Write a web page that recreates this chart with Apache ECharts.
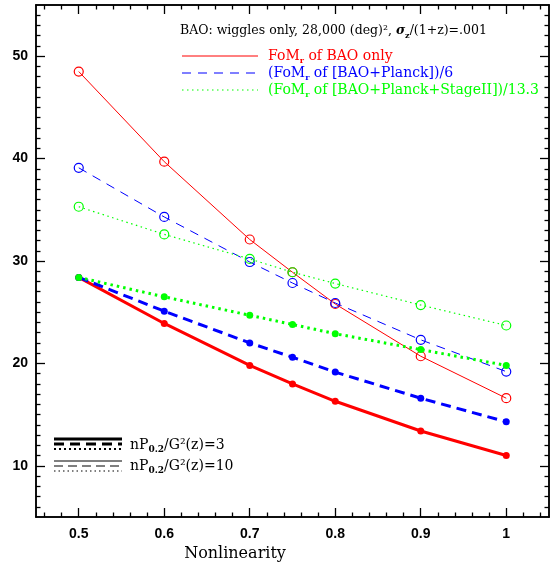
<!DOCTYPE html>
<html>
<head>
<meta charset="utf-8">
<script src="https://cdn.jsdelivr.net/npm/echarts@6/dist/echarts.min.js"></script>
<style>html,body{margin:0;padding:0;background:#fff;}#c{width:559px;height:571px;}</style>
</head>
<body>
<div id="c"></div>
<script>
// ---- data ----
const nonlinearity = [0.5, 0.6, 0.7, 0.75, 0.8, 0.9, 1.0];
// nP/G^2 = 10 (thin lines, open circles)
const baoOnly10   = [48.5, 39.7, 32.1, 28.9, 25.8, 20.7, 16.6];
const planck10    = [39.1, 34.3, 29.9, 27.85, 25.9, 22.3, 19.2];
const stageII10   = [35.3, 32.6, 30.2, 28.9, 27.8, 25.7, 23.7];
// nP/G^2 = 3 (thick lines, filled dots)
const baoOnly3    = [28.4, 23.9, 19.8, 18.0, 16.3, 13.4, 11.0];
const planck3     = [28.4, 25.1, 22.0, 20.6, 19.15, 16.6, 14.3];
const stageII3    = [28.4, 26.5, 24.7, 23.8, 22.9, 21.35, 19.8];
// axis ticks
const xMajorTicks = [0.5, 0.6, 0.7, 0.8, 0.9, 1.0];
const xMinorTicks = [0.46,0.48,0.52,0.54,0.56,0.58,0.62,0.64,0.66,0.68,0.72,0.74,0.76,0.78,0.82,0.84,0.86,0.88,0.92,0.94,0.96,0.98,1.02,1.04];
const yMajorTicks = [10, 20, 30, 40, 50];
const yMinorTicks = [];
for (let v = 6; v <= 54; v++) { if (v % 10 !== 0) yMinorTicks.push(v); }

const RED = '#ff0000', BLUE = '#0000ff', GREEN = '#00ff00';
const serif = "'DejaVu Serif', 'Liberation Serif', serif";
const sans = "'Liberation Sans', Arial, sans-serif";

function pairs(arr) { return nonlinearity.map((x, i) => [x, arr[i]]); }

function xAx(pos, ticks, len, labels) {
  return {
    type: 'value', min: 0.45, max: 1.05, position: pos, gridIndex: 0,
    axisLine: { show: true, onZero: false, lineStyle: { color: '#000', width: 1.5 } },
    axisTick: { show: true, inside: true, length: len, customValues: ticks, lineStyle: { color: '#000', width: 1.3 } },
    axisLabel: labels ? { show: true, customValues: ticks, color: '#000', fontFamily: sans, fontWeight: 'bold', fontSize: 14, margin: 10 } : { show: false },
    splitLine: { show: false }, minorTick: { show: false }
  };
}
function yAx(pos, ticks, len, labels) {
  return {
    type: 'value', min: 5, max: 55, position: pos, gridIndex: 0,
    axisLine: { show: true, onZero: false, lineStyle: { color: '#000', width: 1.5 } },
    axisTick: { show: true, inside: true, length: len, customValues: ticks, lineStyle: { color: '#000', width: 1.3 } },
    axisLabel: labels ? { show: true, customValues: ticks, color: '#000', fontFamily: sans, fontWeight: 'bold', fontSize: 14, margin: 8 } : { show: false },
    splitLine: { show: false }, minorTick: { show: false }
  };
}

function ser(name, data, color, width, dash, filled) {
  return {
    name: name, type: 'line', data: pairs(data), xAxisIndex: 0, yAxisIndex: 0,
    symbol: 'circle', symbolSize: filled ? 7 : 9,
    lineStyle: { color: color, width: width, type: dash },
    itemStyle: filled ? { color: color } : { color: 'rgba(0,0,0,0)', borderColor: color, borderWidth: 1.2 },
    emphasis: { disabled: true }, z: filled ? 3 : 2
  };
}

function richFor(color, size) {
  return {
    n: { color: color, fontFamily: serif, fontSize: size, lineHeight: 18, verticalAlign: 'middle' },
    s: { color: color, fontFamily: serif, fontSize: 8, fontWeight: 'bold', lineHeight: 9, verticalAlign: 'bottom' },
    i: { color: color, fontFamily: serif, fontSize: size, fontStyle: 'italic', fontWeight: 'bold', lineHeight: 18, verticalAlign: 'middle' },
    b: { color: color, fontFamily: serif, fontSize: 9, fontWeight: 'bold', lineHeight: 9, verticalAlign: 'bottom' }
  };
}
function legendText(x, y, text, color, size) {
  return { type: 'text', x: x, y: y, silent: true,
    style: { text: text, rich: richFor(color, size), fill: color, verticalAlign: 'middle', align: 'left' } };
}
function legendLine(x1, x2, y, color, width, dash) {
  return { type: 'line', silent: true, shape: { x1: x1, y1: y, x2: x2, y2: y },
    style: { stroke: color, lineWidth: width, lineDash: dash } };
}

const option = {
  animation: false,
  backgroundColor: '#fff',
  grid: { left: 36, right: 10, top: 5, bottom: 54, containLabel: false },
  xAxis: [
    xAx('bottom', xMajorTicks, 9, true),
    xAx('bottom', xMinorTicks, 4.5, false),
    xAx('top', xMajorTicks, 9, false),
    xAx('top', xMinorTicks, 4.5, false)
  ],
  yAxis: [
    yAx('left', yMajorTicks, 9, true),
    yAx('left', yMinorTicks, 4.5, false),
    yAx('right', yMajorTicks, 9, false),
    yAx('right', yMinorTicks, 4.5, false)
  ],
  series: [
    ser('FoMr of BAO only (nP=10)', baoOnly10, RED, 1, 'solid', false),
    ser('(FoMr of [BAO+Planck])/6 (nP=10)', planck10, BLUE, 1, [9, 7], false),
    ser('(FoMr of [BAO+Planck+StageII])/13.3 (nP=10)', stageII10, GREEN, 1.2, [1.5, 3.5], false),
    ser('FoMr of BAO only (nP=3)', baoOnly3, RED, 3, 'solid', true),
    ser('(FoMr of [BAO+Planck])/6 (nP=3)', planck3, BLUE, 3, [10, 6], true),
    ser('(FoMr of [BAO+Planck+StageII])/13.3 (nP=3)', stageII3, GREEN, 3, [2.5, 4], true)
  ],
  graphic: [
    legendText(180, 31, '{n|BAO: wiggles only, 28,000 (deg)², }{i|σ}{s|z}{n|/(1+z)=.001}', '#000', 12.5),
    legendLine(182, 258, 56, RED, 1, null),
    legendText(268, 56, '{n|FoM}{s|r}{n| of BAO only}', RED, 14),
    legendLine(182, 258, 73, BLUE, 1.2, [9, 7]),
    legendText(268, 73, '{n|(FoM}{s|r}{n| of [BAO+Planck])/6}', BLUE, 14),
    legendLine(182, 258, 90, GREEN, 1.2, [1.5, 3.5]),
    legendText(268, 90, '{n|(FoM}{s|r}{n| of [BAO+Planck+StageII])/13.3}', GREEN, 14),
    legendLine(54, 122, 439, '#000', 3, null),
    legendLine(54, 122, 444, '#000', 3, [10, 6]),
    legendLine(54, 122, 449, '#000', 2, [2, 3]),
    legendText(130, 445, '{n|nP}{b|0.2}{n|/G²(z)=3}', '#000', 14),
    legendLine(54, 122, 461, '#000', 1.2, null),
    legendLine(54, 122, 466, '#000', 1.2, [9, 5]),
    legendLine(54, 122, 471, '#000', 1.2, [1.5, 3]),
    legendText(130, 466, '{n|nP}{b|0.2}{n|/G²(z)=10}', '#000', 14),
    { type: 'text', x: 235, y: 554, silent: true,
      style: { text: 'Nonlinearity', fill: '#000', font: "16px " + serif, align: 'center', verticalAlign: 'middle' } }
  ]
};

const chart = echarts.init(document.getElementById('c'), null, { renderer: 'canvas' });
chart.setOption(option);
</script>
</body>
</html>
